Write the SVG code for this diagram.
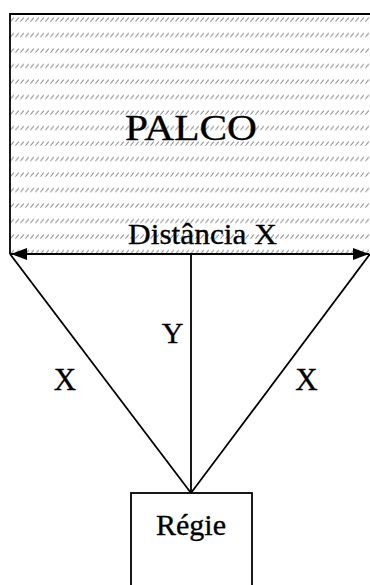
<svg xmlns="http://www.w3.org/2000/svg" width="370" height="585" viewBox="0 0 370 585">
<style>
.ln{stroke:#000;stroke-width:1.8;fill:none}
.t{font-family:"Liberation Serif","Times New Roman",serif;fill:#000;stroke:#000;stroke-width:0.35}
</style>
<defs>
<pattern id="hatch" patternUnits="userSpaceOnUse" x="10" y="17" width="5" height="15.5">
<line x1="0.4" y1="4.6" x2="3.8" y2="0.6" stroke="#8a8a8a" stroke-width="1"/>
</pattern>
<marker id="ah" viewBox="0 0 16 12" refX="16" refY="6" markerWidth="16" markerHeight="12" markerUnits="userSpaceOnUse" orient="auto-start-reverse">
<path d="M0,0 L16,6 L0,12 Z" fill="#000"/>
</marker>
</defs>
<g id="palco">
<rect x="10" y="14" width="362" height="240" fill="#fff"/>
<rect x="10" y="14" width="362" height="240" fill="url(#hatch)"/>
<path class="ln" d="M10,254 V14 H372" stroke-width="2.2"/>
<text class="t" x="191" y="140" font-size="36" text-anchor="middle" textLength="132" lengthAdjust="spacingAndGlyphs">PALCO</text>
</g>
<g id="regie">
<rect class="ln" x="131" y="493" width="121" height="100" fill="#fff"/>
<text class="t" x="191" y="535" font-size="30" text-anchor="middle">Régie</text>
</g>
<g id="connectors">
<line class="ln" x1="11" y1="254" x2="369" y2="254" marker-start="url(#ah)" marker-end="url(#ah)"/>
<line class="ln" x1="10" y1="254" x2="191" y2="493"/>
<line class="ln" x1="370" y1="254" x2="191" y2="493"/>
<line class="ln" x1="191" y1="254" x2="191" y2="493"/>
<text class="t" x="202.5" y="244" font-size="30" text-anchor="middle" textLength="149" lengthAdjust="spacingAndGlyphs">Distância X</text>
<text class="t" x="172.5" y="343" font-size="30" text-anchor="middle">Y</text>
<text class="t" x="65" y="390" font-size="31" text-anchor="middle">X</text>
<text class="t" x="306.5" y="390" font-size="31" text-anchor="middle">X</text>
</g>
</svg>
